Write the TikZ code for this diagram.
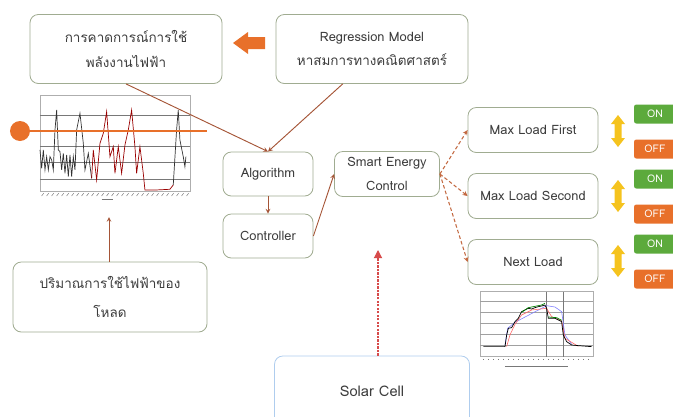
\documentclass[tikz,border=0pt]{standalone}
\usepackage{fontspec}
\setmainfont[Script=Thai]{Loma}
\usetikzlibrary{arrows, arrows.meta, positioning}

\definecolor{boxgrey}{RGB}{160,172,145}
\definecolor{txtgrey}{RGB}{60,60,60}
\definecolor{linkbrown}{RGB}{165,85,55}
\definecolor{dashbrown}{RGB}{195,105,65}
\definecolor{solarblue}{RGB}{175,205,238}
\definecolor{solarred}{RGB}{215,75,75}
\definecolor{hotorange}{RGB}{232,112,42}
\definecolor{ongreen}{RGB}{92,170,60}
\definecolor{updown}{RGB}{245,195,30}
\definecolor{gridgrey}{RGB}{120,120,120}

\begin{document}
\begin{tikzpicture}[
    x = 0.03cm, y = -0.03cm, % one unit = one pixel
    > = stealth, % arrow head style
    thick, % line style
    font=\fontsize{11}{20}\selectfont
]

\tikzstyle{box}=[
    draw = boxgrey,
    line width = 0.7pt,
    rounded corners = 0.25cm,
    fill = white,
    text = txtgrey,
    align = center,
]
\tikzstyle{thai}=[font=\fontsize{11.5}{21}\selectfont]
\tikzstyle{link}=[->, draw=linkbrown, line width=0.8pt]
\tikzstyle{loadlink}=[->, draw=dashbrown, line width=0.9pt, dash pattern=on 3pt off 2pt]
\tikzstyle{switch}=[rounded corners=2pt, text=white, inner sep=0pt,
    minimum width=1.26cm, minimum height=0.57cm, font=\fontsize{9}{10}\selectfont]

\clip (0,0) rectangle (673,416);

% load profile chart
\begin{scope}[shift={(30,90)}, x=0.01cm, y=-0.01cm]
\draw[gridgrey!60, line width=0.4pt] (30,15) rectangle (480,305);
\foreach \gy in {75,125,170,218,268}
    \draw[gridgrey, line width=0.5pt] (30,\gy) -- (480,\gy);
\draw[black!80, line width=0.6pt] (30,180) -- (35,235) -- (40,180) -- (45,240) -- (50,200)
    -- (55,240) -- (60,200) -- (65,210) -- (70,240) -- (75,120) -- (80,60) -- (85,180)
    -- (90,185) -- (95,240) -- (100,190) -- (105,250) -- (110,195) -- (115,260)
    -- (120,195) -- (125,260) -- (130,200) -- (135,240) -- (140,120) -- (150,70)
    -- (160,160) -- (165,240) -- (175,190) -- (185,265);
\draw[red!60!black, line width=0.6pt] (185,265) -- (190,180) -- (200,270) -- (210,160)
    -- (220,130) -- (230,65) -- (240,200) -- (250,170) -- (255,250) -- (265,170)
    -- (275,250) -- (285,165) -- (295,120) -- (305,60) -- (315,170) -- (320,250)
    -- (330,170) -- (340,250) -- (345,300) -- (380,300) -- (420,298) -- (430,285);
\draw[black!80, line width=0.6pt] (430,285) -- (440,120) -- (445,60) -- (450,150)
    -- (460,200) -- (465,230) -- (468,200);
\foreach \tx in {35,50,...,470}
    \draw[gridgrey, line width=0.4pt] (\tx,318) -- (\tx+6,310);
\draw[gridgrey, line width=0.8pt] (215,330) -- (250,330);
\end{scope}
\coordinate (chartfoot) at (109,217);

% demand line
\draw[hotorange, line width=1.2pt] (20,131) -- (207,131);
\fill[hotorange] (20,131) circle (0.3cm);

% solar profile chart
\begin{scope}[shift={(465,285)}, x=0.01cm, y=-0.01cm]
\draw[gridgrey!60, line width=0.4pt] (45,20) rectangle (385,215);
\foreach \gy in {50,83,115,148,180}
    \draw[gridgrey!70, line width=0.4pt] (45,\gy) -- (385,\gy);
\draw[gridgrey, line width=0.5pt] (245,20) -- (245,215);
\draw[gridgrey, line width=0.5pt] (295,20) -- (295,215);
\draw[blue!50, line width=0.5pt] (120,180) -- (128,130) -- (150,112) -- (245,62)
    -- (270,66) -- (290,80) -- (300,150) -- (320,178);
\draw[red!60, line width=0.5pt] (125,185) -- (135,150) -- (150,118) -- (170,90)
    -- (200,75) -- (245,70) -- (260,95) -- (290,108) -- (300,160) -- (340,184);
\draw[black, line width=0.6pt] (55,185) -- (120,185) -- (125,150) -- (130,130)
    -- (140,128) -- (150,110) -- (160,100) -- (170,80) -- (180,75) -- (190,70)
    -- (200,72) -- (210,68) -- (220,65) -- (230,63) -- (240,60) -- (245,70)
    -- (250,100) -- (270,100) -- (290,110) -- (295,150) -- (305,170) -- (320,180)
    -- (340,182) -- (380,185);
\draw[green!50!black, line width=0.6pt] (170,82) -- (190,68) -- (230,60) -- (240,55);
\draw[green!50!black, line width=0.6pt] (250,96) -- (275,98) -- (290,106);
\foreach \tx in {55,70,...,380}
    \draw[gridgrey, line width=0.3pt] (\tx,222) -- (\tx,226);
\draw[gridgrey, line width=0.6pt] (120,245) -- (310,245);
\end{scope}

\node[box, thai, minimum width=5.76cm, minimum height=2.07cm] (pred) at (126,49)
    {การคาดการณ์การใช้\\พลังงานไฟฟ้า};
\node[box, minimum width=5.76cm, minimum height=2.07cm] (regr) at (372,49)
    {Regression Model\\{\fontsize{11.5}{21}\selectfont หาสมการทางคณิตศาสตร์}};
\node[box, minimum width=2.7cm, minimum height=1.32cm] (algo) at (268,174) {Algorithm};
\node[box, minimum width=2.7cm, minimum height=1.32cm] (ctrl) at (268,236) {Controller};
\node[box, minimum width=3.15cm, minimum height=1.35cm, inner sep=1pt] (sec) at (387,174)
    {Smart Energy\\Control};
\node[box, minimum width=3.9cm, minimum height=1.35cm] (load1) at (533,130) {Max Load First};
\node[box, minimum width=3.9cm, minimum height=1.35cm] (load2) at (533,196) {Max Load Second};
\node[box, minimum width=3.9cm, minimum height=1.35cm] (load3) at (533,262) {Next Load};
\node[box, thai, minimum width=5.82cm, minimum height=2.1cm,
    font=\fontsize{11.5}{24}\selectfont] (usage) at (110,297)
    {ปริมาณการใช้ไฟฟ้าของ\\โหลด};
\node[box, draw=solarblue, minimum width=5.85cm, minimum height=2.1cm,
    font=\fontsize{12.5}{14}\selectfont] (solar) at (372,391) {Solar Cell};

% block arrow between the top boxes
\fill[hotorange] (233,43) -- (248,32) -- (248,37) -- (265,37) -- (265,49)
    -- (248,49) -- (248,54) -- cycle;

\draw[link] (pred.south) -- (algo.north);
\draw[link] (regr.230) -- (algo.north);
\draw[link] (algo.south) -- (ctrl.north);
\draw[link] (ctrl.east) -- (sec.west);
\draw[link] (usage.north -| chartfoot) -- (chartfoot);

\draw[loadlink] (sec.east) -- (load1.west);
\draw[loadlink] (sec.east) -- (load2.west);
\draw[loadlink] (sec.east) -- (load3.west);

\coordinate (solartip) at (378,250);
\draw[solarred, line width=1pt, dash pattern=on 2pt off 1pt, -{Triangle[length=7pt, width=7pt]}]
    (solar.north -| solartip) -- (solartip);

% on / off switches
\foreach \yy [count=\i] in {131,196,261} {
    \fill[updown] (618,\yy-16) -- (625,\yy-7) -- (621.5,\yy-7) -- (621.5,\yy+7)
        -- (625,\yy+7) -- (618,\yy+16) -- (611,\yy+7) -- (614.5,\yy+7)
        -- (614.5,\yy-7) -- (611,\yy-7) -- cycle;
    \node[switch, fill=ongreen] (on\i) at (655,\yy-17) {ON};
    \node[switch, fill=hotorange] (off\i) at (655,\yy+18) {OFF};
}
\end{tikzpicture}
\end{document}
